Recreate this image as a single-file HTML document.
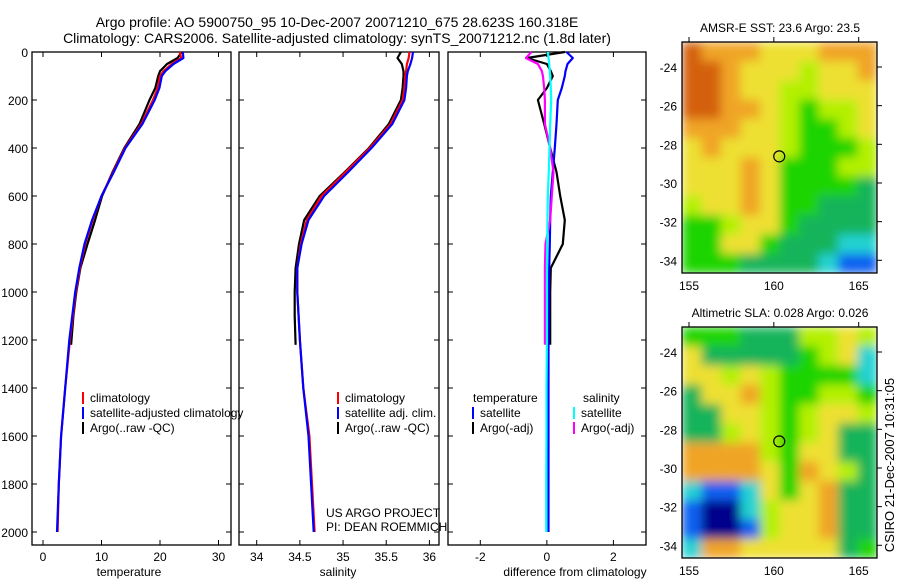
<!DOCTYPE html>
<html><head><meta charset="utf-8"><style>
body{margin:0;background:#fff;}
svg{display:block;font-family:"Liberation Sans",sans-serif;}
text{fill:#000;}
</style></head><body>
<svg id="fig" width="900" height="580" viewBox="0 0 900 580">
<defs>
<filter id="blur" x="0" y="0" width="1" height="1"><feGaussianBlur stdDeviation="5" edgeMode="duplicate"/></filter>
<clipPath id="clip1"><rect x="682" y="42" width="195" height="231"/></clipPath>
<clipPath id="clip2"><rect x="682" y="327" width="195" height="231"/></clipPath>
</defs>
<text x="337" y="27" font-size="14" text-anchor="middle">Argo profile: AO 5900750_95 10-Dec-2007 20071210_675 28.623S 160.318E</text>
<text x="337" y="43" font-size="14" text-anchor="middle">Climatology: CARS2006. Satellite-adjusted climatology: synTS_20071212.nc (1.8d later)</text>
<g id="p1"></g>
<g id="p2"></g>
<g id="p3"></g>
<g id="m1"></g>
<g id="m2"></g>
<text x="575" y="576" font-size="12" text-anchor="middle">difference from climatology</text>
<text x="129" y="576" font-size="12" text-anchor="middle">temperature</text>
<text x="338" y="576" font-size="12" text-anchor="middle">salinity</text>
<text x="326" y="517" font-size="12">US ARGO PROJECT</text>
<text x="326" y="531" font-size="12">PI: DEAN ROEMMICH</text>
<text transform="translate(894,465) rotate(-90)" font-size="13" text-anchor="middle">CSIRO 21-Dec-2007 10:31:05</text>
</svg>
<script>
// ---- data ----
const depthsFull = [0,25,50,80,100,150,200,300,400,500,600,700,800,900,1000,1200,1400,1600,1800,2000];
const tempClim = [23.4,23.6,22.0,20.6,20.0,19.6,18.8,16.8,14.0,12.0,10.0,8.5,7.2,6.3,5.6,4.6,3.8,3.1,2.7,2.5];
const tempSat  = [23.9,24.0,22.3,20.9,20.3,19.9,19.1,17.0,14.1,12.1,10.0,8.4,7.1,6.2,5.5,4.5,3.8,3.1,2.7,2.4];
const depthsArgo = [0,25,50,80,100,150,200,300,400,500,600,700,800,900,1000,1100,1220];
const tempArgo = [23.7,23.0,21.2,20.0,19.7,19.2,18.2,16.5,13.9,11.9,10.1,8.9,7.6,6.4,5.7,5.2,4.8];
const salClim = [35.77,35.76,35.74,35.73,35.72,35.71,35.69,35.55,35.31,35.03,34.75,34.58,34.51,34.47,34.47,34.50,34.54,34.61,34.64,34.67];
const salSat  = [35.81,35.80,35.78,35.75,35.74,35.73,35.71,35.57,35.33,35.06,34.78,34.60,34.52,34.47,34.47,34.50,34.54,34.60,34.63,34.66];
const salArgo = [35.67,35.63,35.68,35.70,35.70,35.69,35.67,35.53,35.30,35.02,34.73,34.55,34.49,34.45,34.44,34.44,34.45];
const dTempSat = [0.59,0.78,0.62,0.56,0.54,0.45,0.33,0.29,0.24,0.18,0.12,0.10,0.09,0.07,0.06,0.05,0.05,0.05,0.05,0.05];
const dSalSat  = [0.03,0.05,0.07,0.09,0.10,0.12,0.13,0.10,0.08,0.06,0.03,0.02,0.01,0.00,0.00,0.00,-0.01,-0.01,-0.02,-0.02];
const dTempArgo = [0.54,-0.6,0.0,0.12,0.18,0.0,-0.27,-0.08,0.10,0.29,0.40,0.54,0.48,0.12,0.10,0.10,0.10];
const dSalArgo  = [-0.46,-0.63,-0.27,-0.15,-0.12,-0.08,-0.06,-0.06,0.10,0.20,0.15,0.10,-0.04,-0.06,-0.06,-0.06,-0.06];
const depthTicks = [0,200,400,600,800,1000,1200,1400,1600,1800,2000];
const tempTicks = [0,10,20,30];
const salTicks = [34,34.5,35,35.5,36];
const diffTicks = [-2,0,2];
const latTicks = [-24,-26,-28,-30,-32,-34];
const lonTicks = [155,160,165];
const sstGrid = ["Ooooyyyooo","OOoyyylyyo","OOoyyllyyy","OOooylglly","oooyylggly","yoyyylgggl","yyyoygggll","yyyoyggggG","lyyoyggGGG","gglyygGGGG","ggyygGGGcc","gggGGGGcbb"];
const slaGrid = ["gggGGGllyl","yGGGGGglyc","yylylggggc","Gyyolggllg","GGyylglyyl","GGlylglyGG","oooolgyyGG","ooooygoylG","cbbcygyoGG","bnnclyyoGG","bnnblyyoGG","cooyyyyyGg"];
const NS='http://www.w3.org/2000/svg';
const fig=document.getElementById('fig');
function mk(tag,attrs,parent){const e=document.createElementNS(NS,tag);for(const k in attrs)e.setAttribute(k,attrs[k]);(parent||fig).appendChild(e);return e;}
const Y0=52, YB=545;
function yD(d){return Y0+d*0.24;}
function lin(d0,d1,p0,p1){return v=>p0+(v-d0)*(p1-p0)/(d1-d0);}

function panel(g,x0,x1,xs,ticks,fmt,left){
  const r=mk('rect',{x:x0,y:Y0,width:x1-x0,height:YB-Y0,fill:'none',stroke:'#000','stroke-width':1.3},g);
  
  
  depthTicks.forEach(d=>{
    const y=yD(d);
    const t=mk('path',{d:`M${x0},${y}h5M${x1},${y}h-5`,stroke:'#000'},g);
    
    
    if(left){const l=mk('text',{x:x0-4,y:y+5,'font-size':12,'text-anchor':'end'},g);l.textContent=d;
      
      }
  });
  ticks.forEach(v=>{
    const x=xs(v);
    const t=mk('path',{d:`M${x},${Y0}v5M${x},${YB}v-5`,stroke:'#000'},g);
    
    
    const l=mk('text',{x:x,y:561,'font-size':12,'text-anchor':'middle'},g);l.textContent=fmt(v);
    
    
  });
}
function line(g,xs,vals,deps,color,name){
  const pts=vals.map((v,i)=>xs(v).toFixed(1)+','+yD(deps[i]).toFixed(1)).join(' ');
  const p=mk('polyline',{points:pts,fill:'none',stroke:color,'stroke-width':2.2,'stroke-linejoin':'round'},g);
  
  
}
function legend(g,x,y,items){
  items.forEach((it,i)=>{
    const yy=y+i*15;
    if(it[1]){const b=mk('rect',{x:x,y:yy-10,width:2,height:12,fill:it[1]},g);
      
      }
    const t=mk('text',{x:x+(it[1]?8:0),y:yy,'font-size':12},g);t.textContent=it[0];
    
    
  });
}
// panel 1
const g1=document.getElementById('p1'), xT=lin(0,30,43,218.5);
panel(g1,32,231,xT,tempTicks,v=>v,true);
line(g1,xT,tempArgo,depthsArgo,'#000','temp-argo-line');
line(g1,xT,tempClim,depthsFull,'#f00','temp-clim-line');
line(g1,xT,tempSat,depthsFull,'#00f','temp-sat-line');
legend(g1,82,402,[['climatology','#f00'],['satellite-adjusted climatology','#00f'],['Argo(..raw -QC)','#000']]);
// panel 2
const g2=document.getElementById('p2'), xS=lin(34,36,256.7,429.4);
panel(g2,239,439,xS,salTicks,v=>v,false);
line(g2,xS,salArgo,depthsArgo,'#000','sal-argo-line');
line(g2,xS,salClim,depthsFull,'#f00','sal-clim-line');
line(g2,xS,salSat,depthsFull,'#00f','sal-sat-line');
legend(g2,337,402,[['climatology','#f00'],['satellite adj. clim.','#00f'],['Argo(..raw -QC)','#000']]);
// panel 3
const g3=document.getElementById('p3'), xDf=lin(-2,2,480.3,613.4);
panel(g3,448,646,xDf,diffTicks,v=>v,false);
line(g3,xDf,dTempArgo,depthsArgo,'#000','dtemp-argo-line');
line(g3,xDf,dTempSat,depthsFull,'#00f','dtemp-sat-line');
line(g3,xDf,dSalArgo,depthsArgo,'#f0f','dsal-argo-line');
line(g3,xDf,dSalSat,depthsFull,'#0ff','dsal-sat-line');
legend(g3,473,402,[['temperature',null]]);
legend(g3,472,417,[['satellite','#00f'],['Argo(-adj)','#000']]);
legend(g3,583,402,[['salinity',null]]);
legend(g3,573,417,[['satellite','#0ff'],['Argo(-adj)','#f0f']]);
// maps
const cmap={O:'#d46010',o:'#f0a428',y:'#eee032',l:'#b4f000',g:'#1ed400',G:'#14b45a',c:'#20d2d2',b:'#1060f0',n:'#00008c'};
function map(gid,top,grid,title,clip){
  const g=document.getElementById(gid);
  const x0=682,x1=877,y1=top+231;
  const xL=lin(155,165,689,858.7), yL=lin(-24,-34,top+25,top+218.3);
  const cw=(x1-x0)/10, ch=(y1-top)/12;
  const cg=mk('g',{'clip-path':`url(#${clip})`},g);
  const bg=mk('g',{filter:'url(#blur)'},cg);
  grid.forEach((row,r)=>{[...row].forEach((c,k)=>{
    const cell=mk('rect',{x:x0+k*cw,y:top+r*ch,width:cw+0.5,height:ch+0.5,fill:cmap[c]},bg);
    
    
  });});
  const fr=mk('rect',{x:x0,y:top,width:x1-x0,height:y1-top,fill:'none',stroke:'#000','stroke-width':1.3},g);
  
  
  const tt=mk('text',{x:780,y:top-10,'font-size':12,'text-anchor':'middle'},g);tt.textContent=title;
  
  
  latTicks.forEach(v=>{const y=yL(v);
    const t=mk('path',{d:`M${x1},${y}h5`,stroke:'#000'},g);
    
    
    const l=mk('text',{x:677,y:y+5,'font-size':12,'text-anchor':'end'},g);l.textContent=v;
    
    });
  lonTicks.forEach(v=>{const x=xL(v);
    const t=mk('path',{d:`M${x},${top}v-5`,stroke:'#000'},g);
    
    
    const l=mk('text',{x:x,y:y1+17,'font-size':12,'text-anchor':'middle'},g);l.textContent=v;
    
    });
  const c=mk('circle',{cx:xL(160.318),cy:yL(-28.623),r:5.5,fill:'none',stroke:'#000','stroke-width':1.2},g);
  
  
}
map('m1',42,sstGrid,'AMSR-E SST: 23.6 Argo: 23.5','clip1');
map('m2',327,slaGrid,'Altimetric SLA: 0.028 Argo: 0.026','clip2');
</script>
</body></html>
